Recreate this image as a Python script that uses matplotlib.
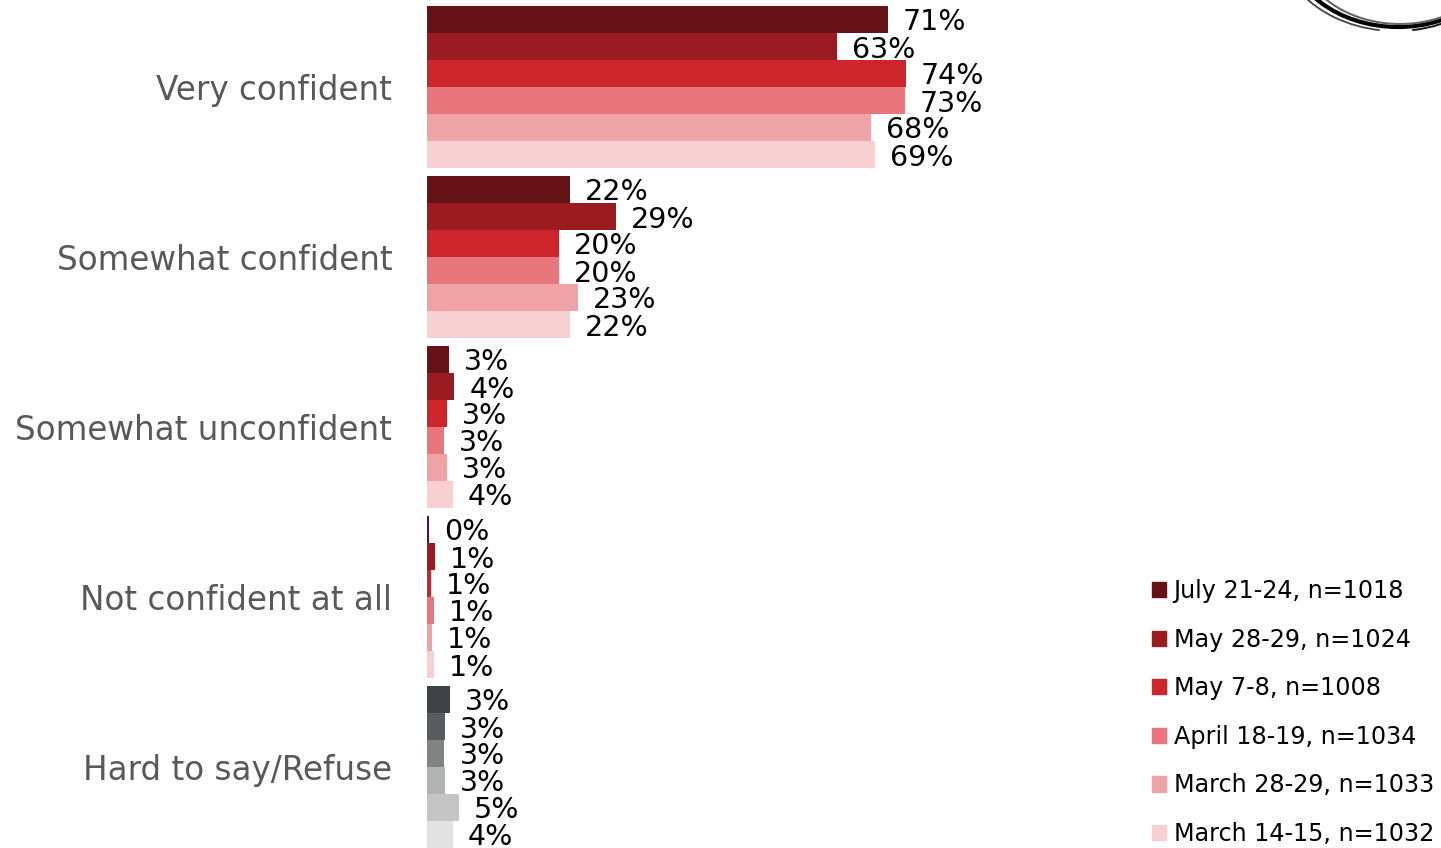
import matplotlib
matplotlib.use('Agg')
import matplotlib.pyplot as plt
from matplotlib.patches import Rectangle, Arc
import numpy as np

# categorias (de arriba hacia abajo)
categories = ['Very confident', 'Somewhat confident', 'Somewhat unconfident',
              'Not confident at all', 'Hard to say/Refuse']

# series (encuestas)
series = ['July 21-24, n=1018', 'May 28-29, n=1024', 'May 7-8, n=1008',
          'April 18-19, n=1034', 'March 28-29, n=1033', 'March 14-15, n=1032']

# longitud de las barras (valor estimado) y etiqueta mostrada
very_conf = [71.1, 63.3, 73.9, 73.7, 68.5, 69.2]
very_conf_lbl = ['71%', '63%', '74%', '73%', '68%', '69%']
some_conf = [22.1, 29.1, 20.4, 20.4, 23.3, 22.1]
some_conf_lbl = ['22%', '29%', '20%', '20%', '23%', '22%']
some_unconf = [3.4, 4.2, 3.1, 2.6, 3.1, 4.0]
some_unconf_lbl = ['3%', '4%', '3%', '3%', '3%', '4%']
not_conf = [0.3, 1.2, 0.6, 1.1, 0.7, 1.1]
not_conf_lbl = ['0%', '1%', '1%', '1%', '1%', '1%']
hard_say = [3.5, 2.8, 2.7, 2.8, 4.9, 4.0]
hard_say_lbl = ['3%', '3%', '3%', '3%', '5%', '4%']

values = [very_conf, some_conf, some_unconf, not_conf, hard_say]
labels = [very_conf_lbl, some_conf_lbl, some_unconf_lbl, not_conf_lbl, hard_say_lbl]

reds = ['#651216', '#9B1C20', '#CC252B', '#E8767A', '#EEA3A6', '#F8D0D4']
grays = ['#404344', '#585C5C', '#7E8483', '#B2B4B3', '#C4C5C4', '#E0E1E0']

W, H = 1441, 848
fig = plt.figure(figsize=(W / 100, H / 100), dpi=100)
x0 = 427
ax = fig.add_axes([x0 / W, 0, 1 - x0 / W, 1])

px_per_pct = 6.48
ax.set_xlim(0, (W - x0) / px_per_pct)
# unidades en y: 1 = distancia entre grupos (170 px)
step = 170.0
ax.set_ylim(H / step, 0)
bar_h = 27 / step
top_off = 6 / step

for i, (vals, lbls) in enumerate(zip(values, labels)):
    cols = grays if i == 4 else reds
    for j, (v, l) in enumerate(zip(vals, lbls)):
        yc = i + top_off + bar_h * (j + 0.5)
        ax.barh(yc, v, height=bar_h, color=cols[j], edgecolor='none')
        ax.text(v + 15 / px_per_pct, yc + 3 / step, l, va='center', ha='left',
                fontsize=20.5, color='black')

centers = [i + top_off + bar_h * 3 for i in range(len(categories))]
ax.set_yticks(centers)
ax.set_yticklabels(categories, fontsize=23.5, color='#595959')
ax.tick_params(axis='y', length=0, pad=25)
ax.set_xticks([])
for s in ax.spines.values():
    s.set_visible(False)

# leyenda
handles = [Rectangle((0, 0), 1, 1, color=c) for c in reds]
fig.legend(handles, series, loc='upper left', bbox_to_anchor=(1152 / W, 1 - 579 / H),
           frameon=False, fontsize=17.2, handlelength=0.6, handleheight=0.6,
           handletextpad=0.3, labelspacing=1.03, borderpad=0, borderaxespad=0)

# logo (arcos) en la esquina superior derecha
lax = fig.add_axes([0, 0, 1, 1])
lax.set_xlim(0, W)
lax.set_ylim(H, 0)
lax.axis('off')
lax.add_patch(Arc((1398, -58), 220, 170, theta1=0, theta2=180, color='black', lw=3))
lax.add_patch(Arc((1400, -56), 205, 160, theta1=15, theta2=165, color='#666666', lw=1.5))
lax.add_patch(Arc((1396, -62), 236, 186, theta1=20, theta2=80, color='#222222', lw=1.5))
lax.add_patch(Arc((1396, -62), 236, 186, theta1=100, theta2=150, color='#444444', lw=1.3))

fig.savefig('out.png', dpi=100)
